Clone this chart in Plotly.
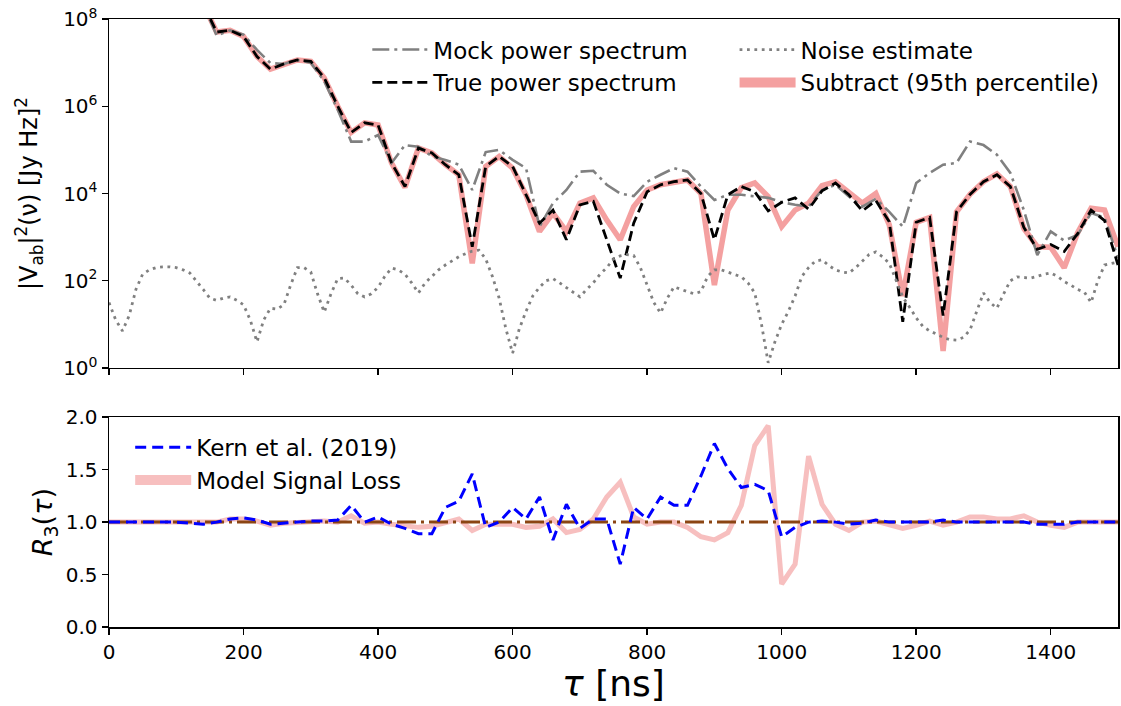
import plotly.graph_objects as go

# ---------------- data ----------------
tau = list(range(0, 1501, 20))          # delay [ns]
tau_noise = list(range(0, 1501, 10))    # delay grid of the noise estimate [ns]

mock_log10 = [
    10.5, 10.2, 9.9, 9.6, 9.3, 9.0, 8.7, 8.35, 7.62, 7.74,
    7.64, 7.29, 6.99, 6.97, 7.06, 7.0, 6.57, 5.92, 5.19, 5.19,
    5.34, 4.7, 5.11, 5.07, 4.85, 4.77, 4.66, 4.08, 4.95, 5.0,
    4.77, 4.58, 3.24, 3.78, 4.08, 4.5, 4.52, 4.2, 4.0, 3.94,
    4.27, 4.43, 4.58, 4.5, 4.16, 3.85, 3.97, 3.97, 3.93, 3.9,
    3.8, 3.74, 3.7, 4.08, 4.2, 3.93, 3.7, 3.88, 3.58, 3.24,
    4.24, 4.47, 4.66, 4.7, 5.19, 5.11, 4.89, 4.47, 3.62, 2.59,
    3.13, 2.92, 3.05, 3.55, 3.45, 2.52]

true_log10 = [
    10.5, 10.2, 9.9, 9.6, 9.3, 9.0, 8.7, 8.35, 7.7, 7.74,
    7.6, 7.14, 6.85, 6.97, 7.06, 7.03, 6.65, 6.0, 5.4, 5.62,
    5.57, 4.7, 4.16, 5.04, 4.93, 4.66, 4.43, 2.78, 4.62, 4.85,
    4.62, 3.97, 3.32, 3.62, 2.94, 3.74, 3.82, 2.94, 2.06, 3.32,
    4.04, 4.2, 4.27, 4.31, 4.0, 2.94, 3.97, 4.16, 4.04, 3.6,
    3.8, 3.9, 3.64, 4.06, 4.24, 3.97, 3.6, 3.84, 3.35, 1.06,
    3.34, 3.45, 1.2, 3.58, 3.98, 4.27, 4.43, 4.16, 3.22, 2.72,
    2.83, 2.67, 3.08, 3.62, 3.38, 2.36]

subtract_log10 = [
    10.5, 10.2, 9.9, 9.6, 9.3, 9.0, 8.7, 8.35, 7.7, 7.74,
    7.6, 7.14, 6.85, 6.97, 7.06, 7.03, 6.65, 6.0, 5.4, 5.62,
    5.57, 4.7, 4.14, 5.04, 4.93, 4.66, 4.43, 2.4, 4.62, 4.85,
    4.58, 3.97, 3.13, 3.55, 3.13, 3.78, 3.9, 3.39, 2.94, 3.7,
    4.08, 4.2, 4.27, 4.31, 4.0, 1.9, 3.62, 4.13, 4.24, 3.93,
    3.24, 3.62, 3.78, 4.18, 4.27, 4.02, 3.78, 4.0, 3.28, 1.65,
    3.34, 3.45, 0.39, 3.58, 3.98, 4.27, 4.45, 4.16, 3.2, 2.78,
    2.77, 2.3, 3.1, 3.66, 3.62, 2.78]

noise_log10 = [
    1.5, 1.1, 0.85, 1.2, 1.8, 2.15, 2.25, 2.3, 2.32, 2.32,
    2.3, 2.25, 2.18, 2.0, 1.8, 1.6, 1.55, 1.6, 1.63, 1.55,
    1.45, 1.1, 0.6, 1.1, 1.37, 1.35, 1.45, 1.9, 2.3, 2.3,
    2.2, 1.7, 1.28, 1.7, 2.05, 2.06, 1.9, 1.7, 1.63, 1.7,
    1.85, 2.1, 2.29, 2.25, 2.15, 1.95, 1.72, 1.95, 2.1, 2.25,
    2.36, 2.45, 2.55, 2.62, 2.68, 2.7, 2.5, 2.1, 1.6, 0.9,
    0.34, 0.9, 1.3, 1.65, 1.85, 2.0, 2.05, 1.95, 1.85, 1.75,
    1.63, 1.8, 1.95, 2.15, 2.3, 2.5, 2.57, 2.6, 2.58, 2.3,
    1.9, 1.5, 1.26, 1.6, 1.86, 1.8, 1.75, 1.7, 1.75, 2.1,
    2.25, 2.25, 2.2, 2.15, 2.09, 1.95, 1.72, 1.0, 0.12, 0.6,
    1.0, 1.3, 1.65, 2.1, 2.3, 2.45, 2.48, 2.35, 2.25, 2.2,
    2.18, 2.3, 2.45, 2.6, 2.66, 2.55, 2.4, 2.0, 1.63, 1.4,
    1.15, 0.95, 0.85, 0.78, 0.7, 0.65, 0.64, 0.7, 0.87, 1.3,
    1.72, 1.5, 1.37, 1.7, 2.0, 2.09, 2.07, 2.06, 2.1, 2.15,
    2.18, 2.1, 1.98, 1.9, 1.8, 1.74, 1.5, 2.0, 2.36, 2.4,
    2.43]

kern_r3 = [
    1.0, 1.0, 1.0, 1.0, 1.0, 1.0, 0.99, 0.98, 1.0, 1.03,
    1.04, 1.02, 0.98, 0.99, 1.0, 1.01, 1.01, 1.02, 1.16, 1.0,
    1.05, 0.98, 0.94, 0.89, 0.89, 1.14, 1.2, 1.46, 0.95, 1.0,
    1.14, 1.03, 1.24, 0.83, 1.17, 0.94, 1.03, 1.03, 0.6, 1.14,
    1.03, 1.24, 1.16, 1.16, 1.44, 1.75, 1.51, 1.33, 1.36, 1.3,
    0.86, 0.95, 1.0, 1.01, 1.0, 0.98, 0.99, 1.02, 1.0, 1.0,
    1.0, 1.0, 1.02, 1.0, 1.0, 1.0, 1.0, 1.0, 1.0, 0.98,
    0.98, 0.98, 1.0, 1.0, 1.0, 1.0]

model_r3 = [
    1.0, 1.0, 1.0, 1.0, 1.0, 1.0, 1.0, 1.0, 1.0, 1.03,
    1.03, 1.01, 0.97, 0.99, 1.0, 1.0, 1.01, 1.0, 1.06, 0.99,
    1.0, 0.98, 0.97, 0.95, 0.96, 0.99, 1.03, 0.92, 0.98, 0.98,
    0.98, 0.95, 0.96, 1.03, 0.9, 0.93, 1.03, 1.24, 1.38, 1.05,
    0.98, 1.0, 1.0, 0.95, 0.86, 0.83, 0.9, 1.16, 1.73, 1.92,
    0.41, 0.6, 1.63, 1.17, 0.98, 0.92, 1.0, 1.01, 0.98, 0.94,
    0.97, 1.01, 0.97, 1.0, 1.05, 1.05, 1.03, 1.03, 1.06, 1.0,
    0.97, 0.95, 1.0, 1.0, 1.0, 1.0]

unity_r3 = [1.0] * len(tau)

top_tickvals = [1, 1e2, 1e4, 1e6, 1e8]
top_ticktext = ["10<sup>0</sup>", "10<sup>2</sup>", "10<sup>4</sup>",
                "10<sup>6</sup>", "10<sup>8</sup>"]
x_tickvals = [0, 200, 400, 600, 800, 1000, 1200, 1400]
r3_tickvals = [0.0, 0.5, 1.0, 1.5, 2.0]

# ---------------- figure ----------------
FONT = "DejaVu Sans"
SUB_COLOR = "rgba(240,128,128,0.75)"
MODEL_COLOR = "rgba(240,128,128,0.5)"


def pow10(arr):
    return [10 ** v for v in arr]


fig = go.Figure()

# top panel
fig.add_trace(go.Scatter(
    x=tau, y=pow10(subtract_log10), mode="lines", showlegend=False,
    line=dict(color=SUB_COLOR, width=5.5), xaxis="x", yaxis="y"))
fig.add_trace(go.Scatter(
    x=tau, y=pow10(mock_log10), mode="lines", name="Mock power spectrum",
    line=dict(color="#808080", width=2.6, dash="17px,5px,3px,5px"),
    xaxis="x", yaxis="y", legend="legend", legendgroup="a", legendrank=1))
fig.add_trace(go.Scatter(
    x=tau, y=pow10(true_log10), mode="lines", name="True power spectrum",
    line=dict(color="black", width=2.8, dash="10px,5px"),
    xaxis="x", yaxis="y", legend="legend", legendgroup="b", legendrank=2))
fig.add_trace(go.Scatter(
    x=tau_noise, y=pow10(noise_log10), mode="lines", name="Noise estimate",
    line=dict(color="#808080", width=2.8, dash="2.8px,4.6px"),
    xaxis="x", yaxis="y", legend="legend2", legendgroup="c", legendrank=1))
# legend entry for the subtraction curve (drawn as a wide swatch)
fig.add_trace(go.Scatter(
    x=[None], y=[None], mode="lines", name="Subtract (95th percentile)",
    line=dict(color=SUB_COLOR, width=20),
    xaxis="x", yaxis="y", legend="legend2", legendgroup="d", legendrank=2))

# bottom panel
fig.add_trace(go.Scatter(
    x=tau, y=model_r3, mode="lines", showlegend=False,
    line=dict(color=MODEL_COLOR, width=5), xaxis="x2", yaxis="y2"))
fig.add_trace(go.Scatter(
    x=tau, y=unity_r3, mode="lines", showlegend=False,
    line=dict(color="#8B4513", width=3, dash="19px,5px,3px,5px"),
    xaxis="x2", yaxis="y2"))
fig.add_trace(go.Scatter(
    x=tau, y=kern_r3, mode="lines", name="Kern et al. (2019)",
    line=dict(color="blue", width=3, dash="11px,6px"),
    xaxis="x2", yaxis="y2", legend="legend3", legendgroup="e", legendrank=1))
fig.add_trace(go.Scatter(
    x=[None], y=[None], mode="lines", name="Model Signal Loss",
    line=dict(color=MODEL_COLOR, width=20),
    xaxis="x2", yaxis="y2", legend="legend3", legendgroup="f", legendrank=2))

axis_common = dict(
    showline=True, linecolor="black", linewidth=1.5, mirror=True,
    ticks="outside", ticklen=6, tickwidth=1.5, tickcolor="black",
    showgrid=False, zeroline=False,
    tickfont=dict(family=FONT, size=20, color="black"),
)

legend_common = dict(
    bgcolor="rgba(0,0,0,0)", borderwidth=0,
    font=dict(family=FONT, size=23, color="black"),
    itemwidth=56, traceorder="grouped", tracegroupgap=0,
    xanchor="left", yanchor="top", itemclick=False, itemdoubleclick=False,
)

fig.update_layout(
    width=1121, height=706,
    margin=dict(l=109, r=1, t=19, b=79),
    paper_bgcolor="white", plot_bgcolor="white",
    font=dict(family=FONT, color="black", size=20),
    xaxis=dict(axis_common, domain=[0, 1], range=[0, 1500], anchor="y",
               tickvals=x_tickvals, showticklabels=False),
    yaxis=dict(axis_common, domain=[0.426, 1], type="log", range=[0, 8],
               anchor="x", tickvals=top_tickvals, ticktext=top_ticktext,
               title=dict(text="|V<sub>ab</sub>|<sup>2</sup>(ν) [Jy Hz]<sup>2</sup>",
                          font=dict(family=FONT, size=24, color="black"),
                          standoff=18)),
    xaxis2=dict(axis_common, domain=[0, 1], range=[0, 1500], anchor="y2",
                tickvals=x_tickvals,
                title=dict(text="<i>τ</i> [ns]",
                           font=dict(family=FONT, size=36, color="black"),
                           standoff=6)),
    yaxis2=dict(axis_common, domain=[0, 0.345], range=[0, 2], anchor="x2",
                tickvals=r3_tickvals, tickformat=".1f",
                title=dict(text="<i>R</i><sub>3</sub>(<i>τ</i>)",
                           font=dict(family=FONT, size=27, color="black"),
                           standoff=5)),
    legend=dict(legend_common, x=0.256, y=0.985),
    legend2=dict(legend_common, x=0.620, y=0.985),
    legend3=dict(legend_common, x=0.021, y=0.331),
)

fig.write_html(
    "out.html",
    config={"displayModeBar": False, "staticPlot": True},
    post_script="document.body.style.margin='0';document.body.style.overflow='hidden';",
)
